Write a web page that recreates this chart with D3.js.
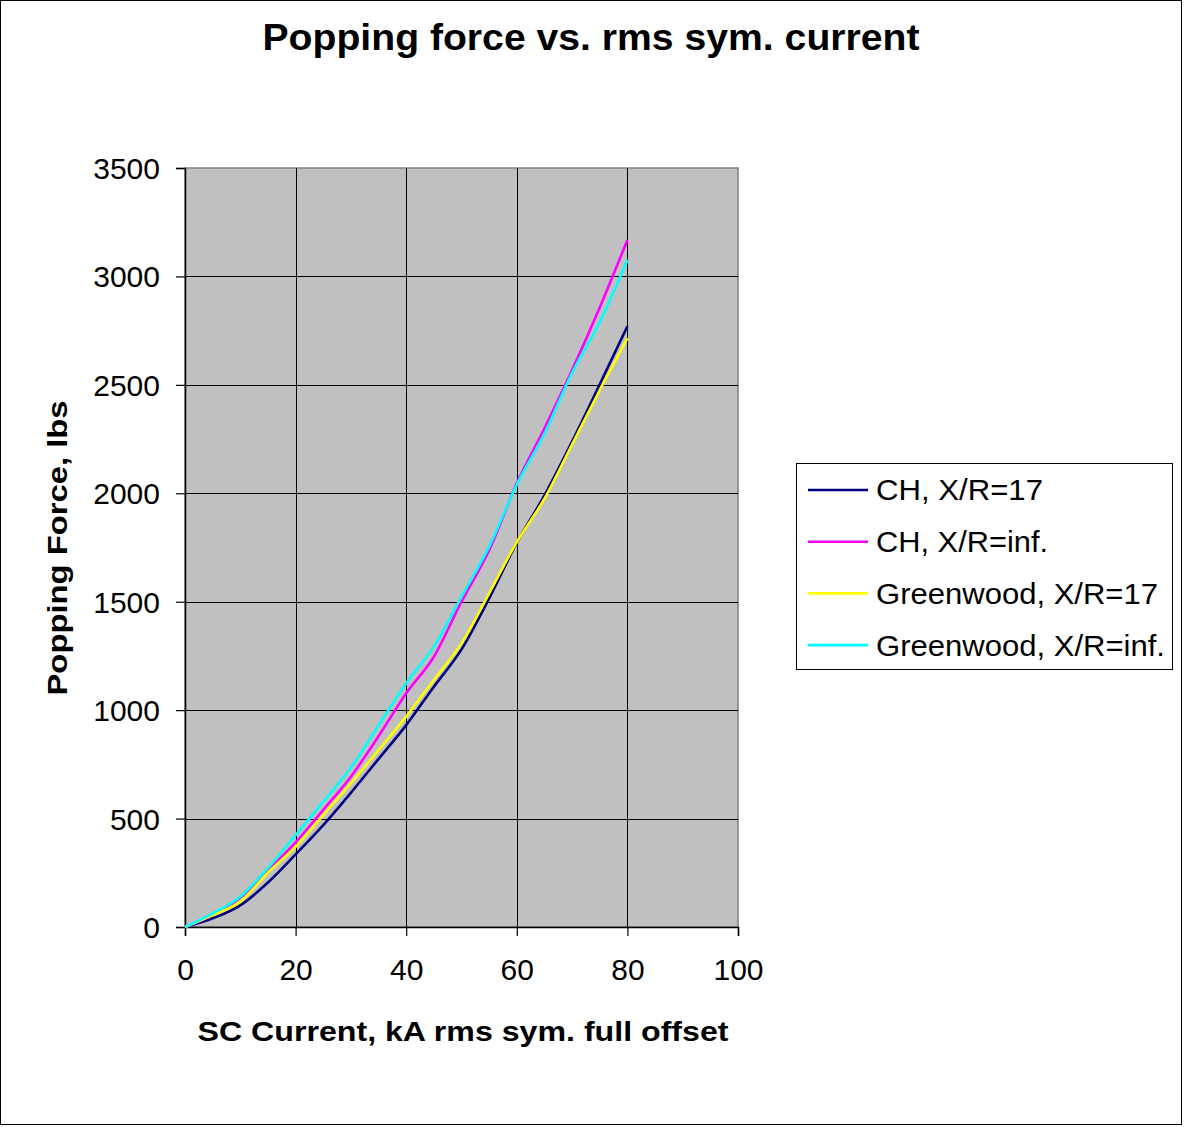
<!DOCTYPE html>
<html>
<head>
<meta charset="utf-8">
<script src="https://cdn.jsdelivr.net/npm/d3@7"></script>
<style>
  body { margin: 0; background: #fff; }
  svg { display: block; font-family: "Liberation Sans", Arial, sans-serif; }
</style>
</head>
<body>
<div id="chart"></div>
<script>
// Current, kA rms sym.
const current = [0, 5, 10, 15, 20, 25, 30, 35, 40, 45, 50, 55, 60, 65, 70, 75, 80];

// Popping force, lbs
const chXR17  = [0, 40, 100, 205, 335, 470, 619, 775, 931, 1108, 1280, 1515, 1772, 1990, 2238, 2502, 2770];
const chXRinf = [0, 55, 135, 260, 390, 540, 693, 880, 1078, 1246, 1500, 1738, 2046, 2300, 2568, 2857, 3168];
const gwXR17  = [0, 55, 117, 250, 370, 516, 663, 815, 970, 1139, 1308, 1539, 1775, 1975, 2225, 2475, 2715];
const gwXRinf = [0, 63, 140, 272, 424, 578, 735, 930, 1124, 1293, 1523, 1754, 2040, 2275, 2556, 2790, 3076];

const seriesNames  = ["CH, X/R=17", "CH, X/R=inf.", "Greenwood, X/R=17", "Greenwood, X/R=inf."];
const seriesColors = ["#000080", "#FF00FF", "#FFFF00", "#00FFFF"];
const seriesValues = [chXR17, chXRinf, gwXR17, gwXRinf];

const xTicks = [0, 20, 40, 60, 80, 100];
const yTicks = [0, 500, 1000, 1500, 2000, 2500, 3000, 3500];

const width = 1184, height = 1127;
const plot = { left: 185, right: 738, top: 168, bottom: 927 };

const svg = d3.select("#chart")
    .append("svg")
    .attr("width", width)
    .attr("height", height);

// outer chart border
svg.append("rect")
    .attr("x", 0.5).attr("y", 0.5)
    .attr("width", width - 3).attr("height", height - 3)
    .attr("fill", "#fff")
    .attr("stroke", "#000")
    .attr("stroke-width", 1);

const x = d3.scaleLinear().domain([0, 100]).range([plot.left, plot.right]);
const y = d3.scaleLinear().domain([0, 3500]).range([plot.bottom, plot.top]);

// plot area
svg.append("rect")
    .attr("x", plot.left).attr("y", plot.top)
    .attr("width", plot.right - plot.left)
    .attr("height", plot.bottom - plot.top)
    .attr("fill", "#C0C0C0")
    .attr("stroke", "#808080")
    .attr("stroke-width", 1.5);

// gridlines
const grid = svg.append("g");
grid.selectAll(".hgrid")
    .data(yTicks.filter(d => d > 0 && d < 3500))
    .enter().append("line")
    .attr("x1", plot.left).attr("x2", plot.right)
    .attr("y1", d => Math.round(y(d)) + 0.5).attr("y2", d => Math.round(y(d)) + 0.5)
    .attr("stroke", "#000").attr("stroke-width", 1);
grid.selectAll(".vgrid")
    .data(xTicks.filter(d => d > 0 && d < 100))
    .enter().append("line")
    .attr("y1", plot.top).attr("y2", plot.bottom)
    .attr("x1", d => Math.round(x(d)) + 0.5).attr("x2", d => Math.round(x(d)) + 0.5)
    .attr("stroke", "#000").attr("stroke-width", 1);

// axes
const xAxis = svg.append("g")
    .attr("transform", `translate(0,${plot.bottom})`)
    .call(d3.axisBottom(x).tickValues(xTicks).tickFormat(d3.format("d")).tickSize(9).tickPadding(23));
const yAxis = svg.append("g")
    .attr("transform", `translate(${plot.left},0)`)
    .call(d3.axisLeft(y).tickValues(yTicks).tickFormat(d3.format("d")).tickSize(9).tickPadding(16));

[xAxis, yAxis].forEach(function(ax) {
    ax.select(".domain").attr("stroke", "#000").attr("stroke-width", 1.5);
    ax.selectAll(".tick line").attr("stroke", "#000").attr("stroke-width", 1.2);
    ax.selectAll(".tick text")
        .attr("fill", "#000")
        .attr("font-size", "30px")
        .attr("font-family", "'Liberation Sans', Arial, sans-serif");
});
yAxis.selectAll(".tick text").attr("dy", "0.35em");

// series lines
const line = d3.line()
    .x((d, i) => x(current[i]))
    .y(d => y(d))
    .curve(d3.curveMonotoneX);

svg.append("g")
    .selectAll("path")
    .data(seriesValues)
    .enter().append("path")
    .attr("d", d => line(d))
    .attr("fill", "none")
    .attr("stroke", (d, i) => seriesColors[i])
    .attr("stroke-width", 2.6)
    .attr("stroke-linejoin", "round");

// title
svg.append("text")
    .attr("x", 591).attr("y", 50)
    .attr("text-anchor", "middle")
    .attr("font-size", "37px")
    .attr("font-weight", "bold")
    .attr("textLength", 657)
    .attr("lengthAdjust", "spacingAndGlyphs")
    .text("Popping force vs. rms sym. current");

// axis titles
svg.append("text")
    .attr("x", 463).attr("y", 1041)
    .attr("text-anchor", "middle")
    .attr("font-size", "28px")
    .attr("font-weight", "bold")
    .attr("textLength", 531)
    .attr("lengthAdjust", "spacingAndGlyphs")
    .text("SC Current, kA rms sym. full offset");

svg.append("text")
    .attr("transform", "translate(67,548) rotate(-90)")
    .attr("text-anchor", "middle")
    .attr("font-size", "28px")
    .attr("font-weight", "bold")
    .attr("textLength", 295)
    .attr("lengthAdjust", "spacingAndGlyphs")
    .text("Popping Force, lbs");

// legend
const legend = svg.append("g");
legend.append("rect")
    .attr("x", 796.5).attr("y", 463.5)
    .attr("width", 376).attr("height", 206)
    .attr("fill", "#fff")
    .attr("stroke", "#000")
    .attr("stroke-width", 1);

const items = legend.selectAll(".item")
    .data(seriesNames)
    .enter().append("g")
    .attr("transform", (d, i) => `translate(0,${490 + i * 51.7})`);
items.append("line")
    .attr("x1", 808).attr("x2", 868)
    .attr("y1", 0).attr("y2", 0)
    .attr("stroke", (d, i) => seriesColors[i])
    .attr("stroke-width", 2.6);
items.append("text")
    .attr("x", 876).attr("y", 0)
    .attr("dy", "0.36em")
    .attr("font-size", "29px")
    .attr("textLength", (d, i) => [167, 172, 282, 289][i])
    .attr("lengthAdjust", "spacingAndGlyphs")
    .text(d => d);
</script>
</body>
</html>
